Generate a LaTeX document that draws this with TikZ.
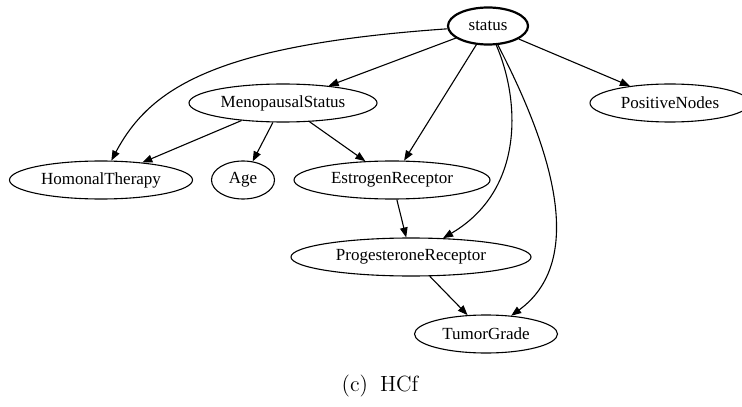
\documentclass[tikz,border=0pt]{standalone}
\usepackage{fontspec}
\newfontfamily\gvfont{Liberation Serif}
\usetikzlibrary{arrows.meta,shapes.geometric}
\tikzset{
  var/.style={ellipse, draw, line width=0.55pt, inner sep=0pt,
    minimum height=19pt, font=\gvfont\fontsize{8.5}{10}\selectfont},
  edge/.style={-{Triangle[length=5pt,width=3.8pt]}, line width=0.55pt},
}
\begin{document}
\begin{tikzpicture}[x=0.5pt, y=-0.5pt]
    \useasboundingbox (0,0) rectangle (742,406);
    % Variables (1 unit = 1 pixel of the layout)
    \node[var, line width=1.1pt, minimum width=40pt, minimum height=18.5pt] (status) at (488,26) {status};
    \node[var, minimum width=94pt] (meno) at (283,103) {MenopausalStatus};
    \node[var, minimum width=80pt] (posnodes) at (670,103) {PositiveNodes};
    \node[var, minimum width=91.5pt] (hormonal) at (101,180) {HomonalTherapy};
    \node[var, minimum width=31.5pt] (age) at (243,180) {Age};
    \node[var, minimum width=98pt] (estrogen) at (392,180) {EstrogenReceptor};
    \node[var, minimum width=120pt] (progest) at (411,257) {ProgesteroneReceptor};
    \node[var, minimum width=71.5pt] (grade) at (486,334) {TumorGrade};
    % Edges out of status
    \draw[edge] (status) .. controls (215,45) and (150,88) .. (hormonal);
    \draw[edge] (status) -- (meno);
    \draw[edge] (status) -- (estrogen);
    \draw[edge] (status) .. controls (520,100) and (525,190) .. (progest);
    \draw[edge] (status) .. controls (555,155) and (585,262) .. (grade);
    \draw[edge] (status) -- (posnodes);
    % Edges out of MenopausalStatus
    \draw[edge] (meno) -- (hormonal);
    \draw[edge] (meno) -- (age);
    \draw[edge] (meno) -- (estrogen);
    % Receptors down to the grade
    \draw[edge] (estrogen) -- (progest);
    \draw[edge] (progest) -- (grade);
    % Caption
    \node[font=\fontsize{11}{13}\selectfont] (caption) at (380,386) {(c)\hspace{6pt}HCf};
\end{tikzpicture}
\end{document}
